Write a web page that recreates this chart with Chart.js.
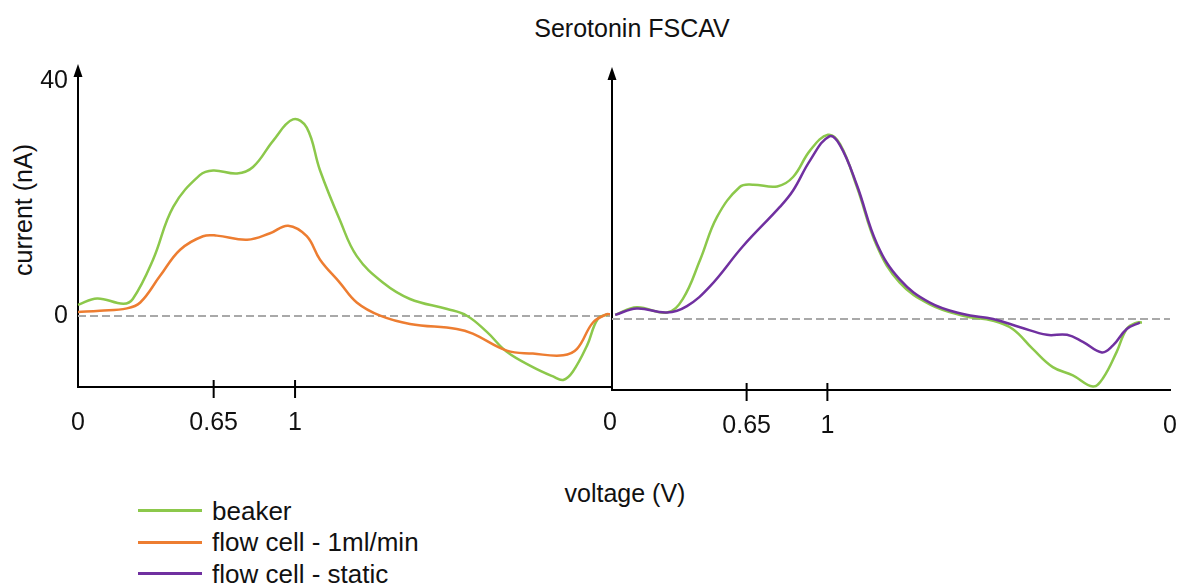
<!DOCTYPE html>
<html>
<head>
<meta charset="utf-8">
<title>Serotonin FSCAV</title>
<script src="https://cdn.jsdelivr.net/npm/chart.js@4.4.1/dist/chart.umd.min.js"></script>
<style>
  body { margin: 0; background: #fff; width: 1180px; height: 583px; position: relative; overflow: hidden;
         font-family: "Liberation Sans", Arial, sans-serif; color: #111; }
  canvas { position: absolute; top: 0; }
  #leftChart { left: 0; }
  #rightChart { left: 560px; }
  .txt { position: absolute; font-size: 25px; white-space: nowrap; line-height: 1; }
  #title { left: 632px; top: 28px; transform: translate(-50%, -50%); }
  #xTitle { left: 625px; top: 493px; transform: translate(-50%, -50%); }
  #yTitle { left: 23px; top: 210px; transform: translate(-50%, -50%) rotate(-90deg); }
  #legend { position: absolute; left: 138px; top: 495px; }
  .row { display: flex; align-items: center; height: 31.5px; font-size: 26px; line-height: 1; }
  .swatch { width: 64px; height: 3px; margin-right: 10px; }
</style>
</head>
<body>

<div id="title" class="txt">Serotonin FSCAV</div>
<div id="yTitle" class="txt">current (nA)</div>
<div id="xTitle" class="txt">voltage (V)</div>
<div id="legend"></div>

<canvas id="leftChart" width="620" height="583"></canvas>
<canvas id="rightChart" width="620" height="583"></canvas>

<script>
// series names + colours
const seriesNames = ['beaker', 'flow cell - 1ml/min', 'flow cell - static'];
const seriesColors = ['#8cc84b', '#ed7d31', '#7030a0'];

// y axis (nA)
const yMin = -12.1;
const yMax = 42.1;
const yTickValues = [0, 40];

// x = fraction of the sweep time, labels are the waveform voltage
const leftTickPos = [0, 0.255, 0.408, 1];
const leftTickLabels = ['0', '0.65', '1', '0'];
const rightTickPos = [0.255, 0.408, 1.057];
const rightTickLabels = ['0.65', '1', '0'];

// left panel - beaker
const beakerLeftT = [0, 0.036, 0.085, 0.103, 0.141, 0.179, 0.229, 0.254, 0.299, 0.329, 0.367, 0.404, 0.430, 0.455,
  0.492, 0.524, 0.573, 0.624, 0.694, 0.731, 0.769, 0.806, 0.855, 0.893, 0.912, 0.930, 0.957, 0.977, 0.996];
const beakerLeftI = [1.9, 3.0, 2.1, 2.9, 9.6, 18.6, 24.0, 24.8, 24.3, 25.4, 29.9, 33.5, 32.1, 24.8,
  16.4, 10.2, 5.7, 2.9, 1.2, 0.05, -2.75, -6.1, -8.7, -10.3, -10.9, -9.5, -5.0, -0.5, 0.3];

// left panel - flow cell 1ml/min
const flowLeftT = [0, 0.041, 0.092, 0.117, 0.154, 0.192, 0.235, 0.261, 0.318, 0.361, 0.395, 0.430, 0.455,
  0.492, 0.524, 0.568, 0.624, 0.712, 0.742, 0.806, 0.855, 0.912, 0.938, 0.968, 0.994, 1.0];
const flowLeftI = [0.7, 0.9, 1.3, 2.3, 6.8, 11.3, 13.6, 13.7, 13.0, 14.1, 15.4, 13.6, 9.6,
  5.7, 2.3, 0.05, -1.35, -2.2, -3.0, -5.9, -6.4, -6.7, -5.6, -1.1, 0.3, 0.3];

// right panel - beaker
const beakerRightT = [0.006, 0.047, 0.104, 0.134, 0.167, 0.199, 0.242, 0.267, 0.313, 0.343, 0.375, 0.409, 0.432,
  0.464, 0.502, 0.545, 0.602, 0.665, 0.722, 0.759, 0.797, 0.835, 0.873, 0.911, 0.930, 0.956, 0.975, 0.994, 1.004];
const beakerRightI = [0.7, 2.0, 1.1, 3.4, 10.1, 17.4, 22.5, 22.9, 22.6, 24.2, 28.7, 31.4, 29.8,
  22.5, 12.4, 6.2, 2.5, 0.56, -0.3, -1.7, -5.1, -8.2, -9.6, -11.5, -10.1, -5.6, -1.7, -0.6, -0.6];

// right panel - flow cell static
const staticRightT = [0.006, 0.047, 0.104, 0.142, 0.186, 0.248, 0.318, 0.343, 0.375, 0.411, 0.432, 0.464, 0.502,
  0.545, 0.602, 0.665, 0.722, 0.773, 0.824, 0.862, 0.892, 0.928, 0.949, 0.975, 1.0];
const staticRightI = [0.7, 1.8, 1.1, 2.2, 5.6, 12.4, 19.1, 21.9, 27.0, 31.1, 29.6, 22.8, 12.8,
  6.75, 2.8, 0.84, 0, -1.4, -2.7, -2.7, -3.9, -5.7, -4.5, -1.7, -0.6];

const FONT = '"Liberation Sans", Arial, sans-serif';

function pts(xs, ys) {
  return xs.map((x, i) => ({ x: x, y: ys[i] }));
}

function curve(idx, xs, ys, order) {
  return {
    label: seriesNames[idx],
    data: pts(xs, ys),
    borderColor: seriesColors[idx],
    borderWidth: 2.5,
    pointRadius: 0,
    tension: 0.4,
    order: order,
    clip: false
  };
}

function zeroLine(xEnd) {
  return {
    label: 'zero',
    data: [{ x: 0, y: 0 }, { x: xEnd, y: 0 }],
    borderColor: '#a9a9a9',
    borderWidth: 2,
    borderDash: [8, 4],
    pointRadius: 0,
    order: 10
  };
}

// arrow on top of y axis + small ticks crossing the x axis
const axisExtras = {
  id: 'axisExtras',
  afterDraw(chart, args, opts) {
    const ctx = chart.ctx;
    const a = chart.chartArea;
    const xs = chart.scales.x;
    ctx.save();
    ctx.fillStyle = '#000';
    ctx.beginPath();
    ctx.moveTo(a.left, a.top - 5);
    ctx.lineTo(a.left - 4.5, a.top + 8);
    ctx.lineTo(a.left + 4.5, a.top + 8);
    ctx.closePath();
    ctx.fill();
    ctx.strokeStyle = '#000';
    ctx.lineWidth = 2;
    opts.marks.forEach(v => {
      const px = xs.getPixelForValue(v);
      ctx.beginPath();
      ctx.moveTo(px, a.bottom - 7);
      ctx.lineTo(px, a.bottom + 11);
      ctx.stroke();
    });
    ctx.restore();
  }
};

function makePanel(canvasId, datasets, cfg) {
  const ctx = document.getElementById(canvasId).getContext('2d');
  return new Chart(ctx, {
    type: 'line',
    data: { datasets: datasets },
    plugins: [axisExtras],
    options: {
      responsive: false,
      animation: false,
      devicePixelRatio: 1,
      layout: { padding: { left: cfg.padLeft, right: 10, top: cfg.top, bottom: 0 } },
      plugins: {
        legend: { display: false },
        tooltip: { enabled: false },
        axisExtras: { marks: [0.255, 0.408] }
      },
      scales: {
        x: {
          type: 'linear',
          min: 0,
          max: cfg.xMax,
          afterFit: s => {
            s.height = 583 - cfg.bottom;
            s.paddingLeft = 0;
            s.paddingRight = 0;
          },
          afterBuildTicks: s => { s.ticks = cfg.tickPos.map(v => ({ value: v })); },
          grid: { display: false, drawTicks: false },
          border: { display: true, color: '#000', width: 2 },
          ticks: {
            autoSkip: false,
            maxRotation: 0,
            padding: 21,
            color: '#111',
            font: { family: FONT, size: 25 },
            callback: (v, i) => cfg.tickLabels[i]
          }
        },
        y: {
          min: yMin,
          max: yMax,
          afterFit: s => { s.width = cfg.yWidth; },
          afterBuildTicks: s => { s.ticks = yTickValues.map(v => ({ value: v })); },
          grid: { display: false, drawTicks: false },
          border: { display: true, color: '#000', width: 2 },
          ticks: {
            display: cfg.yLabels,
            padding: 10,
            color: '#111',
            font: { family: FONT, size: 25 }
          }
        }
      }
    }
  });
}

document.addEventListener('DOMContentLoaded', function () {

  // legend
  const legend = document.getElementById('legend');
  seriesNames.forEach((name, i) => {
    const row = document.createElement('div');
    row.className = 'row';
    row.innerHTML = '<span class="swatch" style="background:' + seriesColors[i] + '"></span><span>' + name + '</span>';
    legend.appendChild(row);
  });

  // LEFT PANEL
  makePanel('leftChart', [
    curve(0, beakerLeftT, beakerLeftI, 2),
    curve(1, flowLeftT, flowLeftI, 1),
    zeroLine(1)
  ], {
    padLeft: 0, yWidth: 78, top: 69, bottom: 387, xMax: 1,
    tickPos: leftTickPos, tickLabels: leftTickLabels, yLabels: true
  });

  // RIGHT PANEL
  makePanel('rightChart', [
    curve(0, beakerRightT, beakerRightI, 2),
    curve(2, staticRightT, staticRightI, 1),
    zeroLine(1.057)
  ], {
    padLeft: 52, yWidth: 0, top: 72, bottom: 390, xMax: 1.057,
    tickPos: rightTickPos, tickLabels: rightTickLabels, yLabels: false
  });

});
</script>
</body>
</html>
